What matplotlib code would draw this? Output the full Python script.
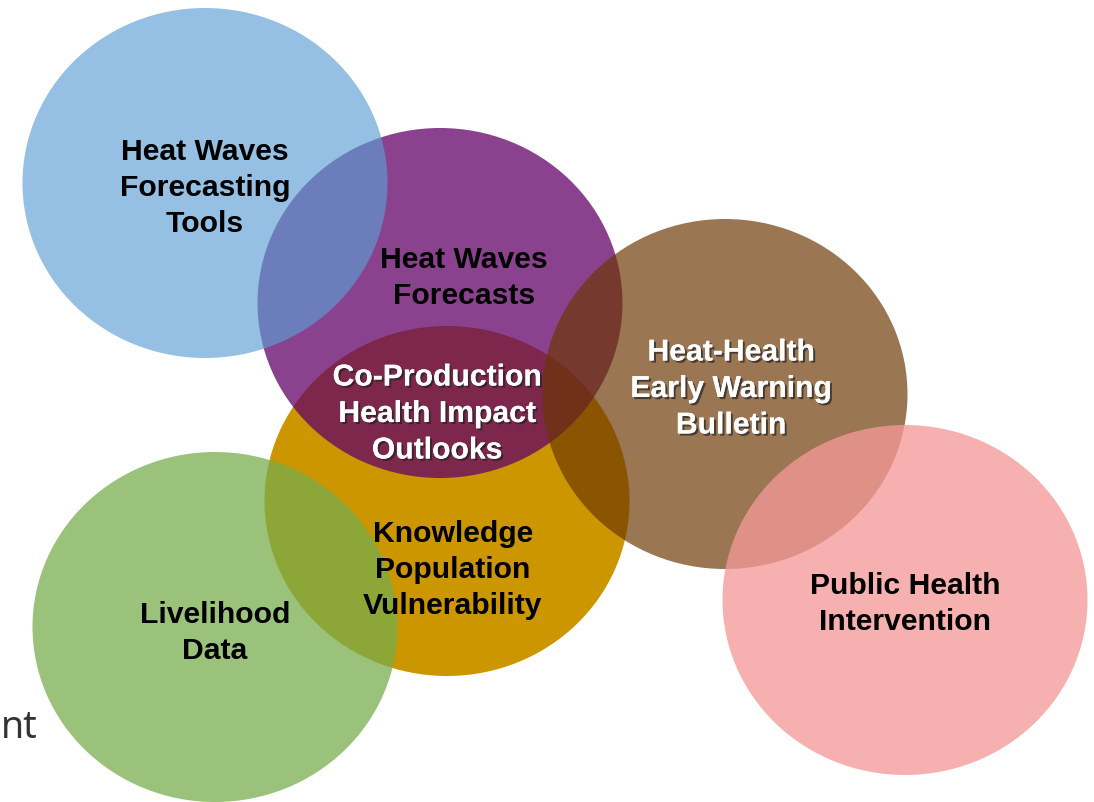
import matplotlib
matplotlib.use("Agg")
import matplotlib.pyplot as plt
from matplotlib.patches import Ellipse
import matplotlib.patheffects as pe

# ---- data ----
names = ["Knowledge", "Forecasts", "Tools", "Bulletin", "Livelihood", "Intervention"]
centers_x = [447, 440, 205, 725, 215, 905]
centers_y = [501, 303, 183, 394, 627, 600]
base_colors = ["#CC9600", "#630067", "#5C9DD4", "#6B3501", "#77AD4C", "#F59898"]
alphas = [1.0, 0.74, 0.65, 0.68, 0.74, 0.77]

label_texts = [
    ["Heat Waves", "Forecasting", "Tools"],
    ["Heat Waves", "Forecasts"],
    ["Co-Production", "Health Impact", "Outlooks"],
    ["Heat-Health", "Early Warning", "Bulletin"],
    ["Knowledge", "Population", "Vulnerability"],
    ["Livelihood", "Data"],
    ["Public Health", "Intervention"],
]
label_x = [205, 464, 437, 731, 453, 215, 905]
label_y = [188, 278, 414, 389, 570, 633, 604]
label_white = [False, False, True, True, False, False, False]

W, H = 1094, 802
fig = plt.figure(figsize=(W / 100, H / 100), dpi=100)
ax = fig.add_axes([0, 0, 1, 1])
ax.set_xlim(0, W)
ax.set_ylim(H, 0)
ax.axis("off")

circle_w, circle_h = 365, 350
for cx, cy, col, a in zip(centers_x, centers_y, base_colors, alphas):
    ax.add_patch(Ellipse((cx, cy), circle_w, circle_h, facecolor=col,
                         alpha=a, edgecolor="none"))

line_gap = 36.5
shadow = [pe.withSimplePatchShadow(offset=(1.5, -1.5), shadow_rgbFace="#222222", alpha=0.7),
          pe.Normal()]
for lines, lx, ly, white in zip(label_texts, label_x, label_y, label_white):
    n = len(lines)
    for i, line in enumerate(lines):
        y = ly + (i - (n - 1) / 2) * line_gap
        ax.text(lx, y, line, ha="center", va="center",
                fontsize=21.7, fontweight="bold", family="Liberation Sans",
                color="white" if white else "black",
                path_effects=shadow if white else None)

# stray text fragment at the left edge
ax.text(1, 738, "nt", ha="left", va="baseline", fontsize=27,
        family="Noto Sans", color="#333333")

fig.savefig("out.png", dpi=100)
